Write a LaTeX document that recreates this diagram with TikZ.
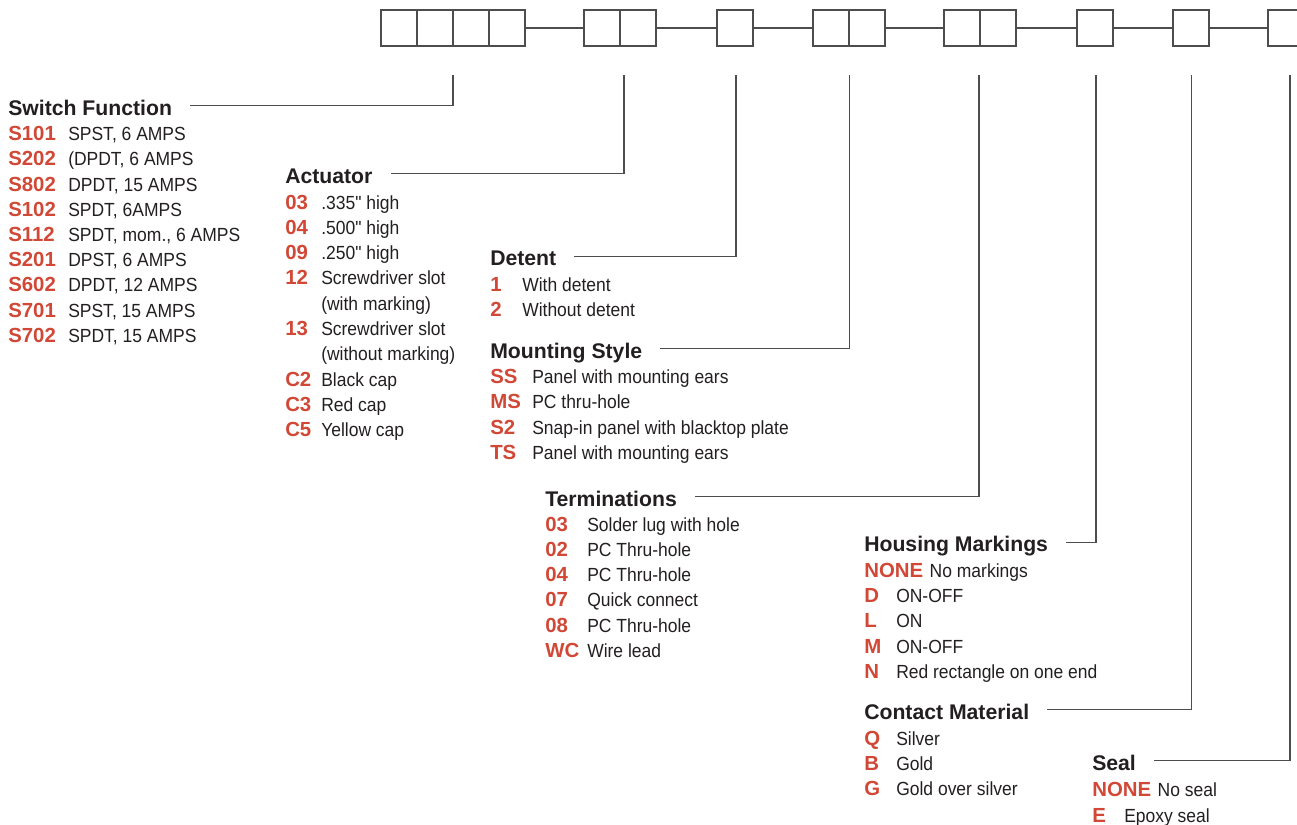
\documentclass[tikz,border=0pt]{standalone}
\usepackage{fontspec}
\setmainfont{Liberation Sans}
\newfontfamily\narrowfont[FakeStretch=0.92]{Liberation Sans}
\definecolor{codered}{RGB}{209,72,54}
\definecolor{inkgray}{RGB}{35,31,32}
\definecolor{linegray}{RGB}{77,77,77}

\begin{document}
\begin{tikzpicture}[x=0.75pt,y=-0.75pt,
		cell/.style={draw=linegray,line width=1pt,minimum size=27pt,inner sep=0pt,outer sep=0pt},
		lead/.style={draw=linegray,line width=0.9pt},
		head/.style={anchor=base west,inner sep=0pt,text height=14.25pt,text depth=0pt,text=inkgray,font=\fontsize{15.9}{19}\selectfont\bfseries},
		code/.style={anchor=base west,inner sep=0pt,text=codered,font=\fontsize{15.3}{18}\selectfont\bfseries},
		desc/.style={anchor=base west,inner sep=0pt,text=inkgray,font=\fontsize{14.25}{17}\selectfont\narrowfont}]
		\useasboundingbox (0,0) rectangle (1297,825);
		% part number boxes
		\foreach \n/\x/\k in {a/381/4, b/584/2, c/717/1, d/813/2, e/944/2, f/1077/1, g/1173/1, h/1268/1}
			\foreach \j in {1,...,\k}
				\node[cell] (\n\j) at ({\x+18+36*(\j-1)},28) {};
		\draw[lead] (a4.east) -- (b1.west);
		\draw[lead] (b2.east) -- (c1.west);
		\draw[lead] (c1.east) -- (d1.west);
		\draw[lead] (d2.east) -- (e1.west);
		\draw[lead] (e2.east) -- (f1.west);
		\draw[lead] (f1.east) -- (g1.west);
		\draw[lead] (g1.east) -- (h1.west);
		% drop points under the boxes
		\coordinate (swfTop) at (453,75);
		\coordinate (actTop) at (624,75);
		\coordinate (detTop) at (736,75);
		\coordinate (mntTop) at (849.5,75);
		\coordinate (trmTop) at (979,75);
		\coordinate (hsgTop) at (1096,75);
		\coordinate (cntTop) at (1191.5,75);
		\coordinate (selTop) at (1290,75);
		% switch function
		\node[head] (swf) at (8,115) {Switch Function};
		\foreach \c/\d [count=\i] in {S101/{SPST, 6 AMPS}, S202/{(DPDT, 6 AMPS}, S802/{DPDT, 15 AMPS}, S102/{SPDT, 6AMPS}, S112/{SPDT, mom., 6 AMPS}, S201/{DPST, 6 AMPS}, S602/{DPDT, 12 AMPS}, S701/{SPST, 15 AMPS}, S702/{SPDT, 15 AMPS}} {
			\node[code] (swf-c\i) at (8,{140.6+25.2*(\i-1)}) {\c};
			\node[desc] (swf-d\i) at (68,{140.6+25.2*(\i-1)}) {\d};
		}
		% actuator
		\node[head] (act) at (285,183.3) {Actuator};
		\foreach \c/\d [count=\i] in {03/{.335" high}, 04/{.500" high}, 09/{.250" high}, 12/{Screwdriver slot}, {}/{(with marking)}, 13/{Screwdriver slot}, {}/{(without marking)}, C2/{Black cap}, C3/{Red cap}, C5/{Yellow cap}} {
			\node[code] (act-c\i) at (285,{209+25.3*(\i-1)}) {\c};
			\node[desc] (act-d\i) at (321,{209+25.3*(\i-1)}) {\d};
		}
		% detent
		\node[head] (det) at (490,265.7) {Detent};
		\foreach \c/\d [count=\i] in {1/{With detent}, 2/{Without detent}} {
			\node[code] (det-c\i) at (490,{291+25.6*(\i-1)}) {\c};
			\node[desc] (det-d\i) at (522,{291+25.6*(\i-1)}) {\d};
		}
		% mounting style
		\node[head] (mnt) at (490,358.3) {Mounting Style};
		\foreach \c/\d [count=\i] in {SS/{Panel with mounting ears}, MS/{PC thru-hole}, S2/{Snap-in panel with blacktop plate}, TS/{Panel with mounting ears}} {
			\node[code] (mnt-c\i) at (490,{383.5+25.3*(\i-1)}) {\c};
			\node[desc] (mnt-d\i) at (532,{383.5+25.3*(\i-1)}) {\d};
		}
		% terminations
		\node[head] (trm) at (545,506) {Terminations};
		\foreach \c/\d [count=\i] in {03/{Solder lug with hole}, 02/{PC Thru-hole}, 04/{PC Thru-hole}, 07/{Quick connect}, 08/{PC Thru-hole}, WC/{Wire lead}} {
			\node[code] (trm-c\i) at (545,{531+25.3*(\i-1)}) {\c};
			\node[desc] (trm-d\i) at (587,{531+25.3*(\i-1)}) {\d};
		}
		% housing markings
		\node[head] (hsg) at (864,551.7) {Housing Markings};
		\node[code] (hsg-c1) at (864,577.3) {NONE};
		\node[desc] (hsg-d1) at ([xshift=4.5pt]hsg-c1.base east) {No markings};
		\foreach \c/\d [count=\i from 2] in {D/{ON-OFF}, L/{ON}, M/{ON-OFF}, N/{Red rectangle on one end}} {
			\node[code] (hsg-c\i) at (864,{577.3+25.3*(\i-1)}) {\c};
			\node[desc] (hsg-d\i) at (896,{577.3+25.3*(\i-1)}) {\d};
		}
		% contact material
		\node[head] (cnt) at (864,719) {Contact Material};
		\foreach \c/\d [count=\i] in {Q/{Silver}, B/{Gold}, G/{Gold over silver}} {
			\node[code] (cnt-c\i) at (864,{745+25.3*(\i-1)}) {\c};
			\node[desc] (cnt-d\i) at (896,{745+25.3*(\i-1)}) {\d};
		}
		% seal
		\node[head] (sel) at (1092,770) {Seal};
		\node[code] (sel-c1) at (1092,796) {NONE};
		\node[desc] (sel-d1) at ([xshift=4.5pt]sel-c1.base east) {No seal};
		\node[code] (sel-c2) at (1092,822) {E};
		\node[desc] (sel-d2) at (1124,822) {Epoxy seal};
		% leaders
		\draw[lead] (swfTop) |- ([xshift=13.5pt]swf.east);
		\draw[lead] (actTop) |- ([xshift=13.5pt]act.east);
		\draw[lead] (detTop) |- ([xshift=13.5pt]det.east);
		\draw[lead] (mntTop) |- ([xshift=13.5pt]mnt.east);
		\draw[lead] (trmTop) |- ([xshift=13.5pt]trm.east);
		\draw[lead] (hsgTop) |- ([xshift=13.5pt]hsg.east);
		\draw[lead] (cntTop) |- ([xshift=13.5pt]cnt.east);
		\draw[lead] (selTop) |- ([xshift=13.5pt]sel.east);
\end{tikzpicture}
\end{document}
